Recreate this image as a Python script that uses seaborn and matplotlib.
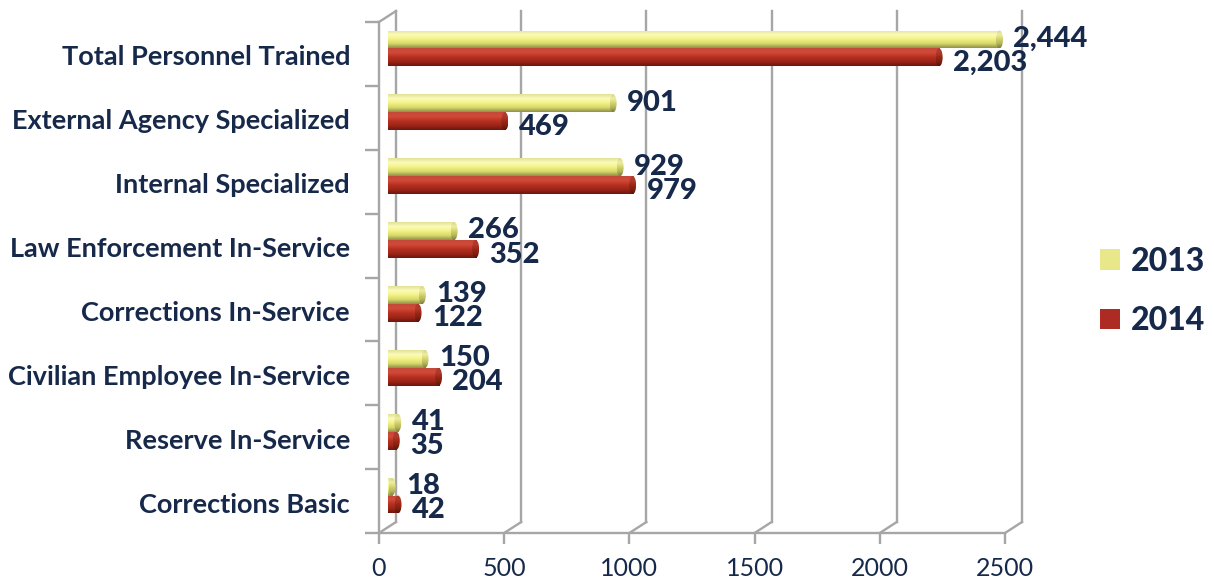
import numpy as np
import pandas as pd
import matplotlib
matplotlib.use("Agg")
import matplotlib.pyplot as plt
import matplotlib.markers as mmarkers
from matplotlib.transforms import ScaledTranslation
from matplotlib.colors import LinearSegmentedColormap
from matplotlib.patches import Patch, Ellipse
import seaborn as sns

# ---- data -------------------------------------------------------------
categories = [
    "Total Personnel Trained",
    "External Agency Specialized",
    "Internal Specialized",
    "Law Enforcement In-Service",
    "Corrections In-Service",
    "Civilian Employee In-Service",
    "Reserve In-Service",
    "Corrections Basic",
]
years = ["2013", "2014"]
values_2013 = [2444, 901, 929, 266, 139, 150, 41, 18]
values_2014 = [2203, 469, 979, 352, 122, 204, 35, 42]
x_ticks = [0, 500, 1000, 1500, 2000, 2500]

df = pd.DataFrame({
    "Category": categories * 2,
    "Year": [years[0]] * len(categories) + [years[1]] * len(categories),
    "Personnel": values_2013 + values_2014,
})

# ---- style ------------------------------------------------------------
sns.set_style("white")
plt.rcParams["font.family"] = ["Lato", "DejaVu Sans"]
TEXT = "#17294a"
GRID = "#a6a6a6"
palette = {"2013": "#e8e88a", "2014": "#ad2b22"}
# cylinder shading, top -> bottom
shades = {
    "2013": ["#e2e296", "#fbfbbd", "#f3f384", "#d8d86a", "#8f8f48"],
    "2014": ["#c4483a", "#d04a38", "#b8301f", "#9c2517", "#6d160e"],
}
cap_shades = {
    "2013": ["#d6d68a", "#eeee9e", "#d2d270", "#b4b45a", "#7c7c3c"],
    "2014": ["#a83a2c", "#b23a2a", "#9a2818", "#80200f", "#5a120a"],
}

DPI = 100
fig = plt.figure(figsize=(12.14, 5.8), dpi=DPI)
W, H = 1214, 580
# axes sit at mid-depth of the pseudo-3D box
x0, x1 = 387.5, 1013.5
y_top, y_bot = 16.5, 527.5
ax = fig.add_axes([x0 / W, (H - y_bot) / H, (x1 - x0) / W, (y_bot - y_top) / H])

sns.barplot(data=df, y="Category", x="Personnel", hue="Year", orient="h",
            palette=palette, width=0.56, ax=ax, legend=False, saturation=1,
            edgecolor="none", errorbar=None)

XMAX = 2500
ax.set_xlim(0, XMAX)
ax.set_ylim(len(categories) - 0.5, -0.5)
for s in ax.spines.values():
    s.set_visible(False)
ax.set_xlabel("")
ax.set_ylabel("")

# depth offsets (pixels) for back wall and front edges
dx, dy = 8.5, 5.5
back = ax.transData + ScaledTranslation(dx / DPI, dy / DPI, fig.dpi_scale_trans)
front = ax.transData + ScaledTranslation(-dx / DPI, -dy / DPI, fig.dpi_scale_trans)
lw = 1.7
ytop, ybot = -0.5, len(categories) - 0.5
line_kw = dict(color=GRID, lw=lw, clip_on=False, zorder=0.5,
               solid_capstyle="projecting")

# back wall gridlines, each bending down to the front floor edge
for xv in x_ticks:
    ax.plot([xv, xv], [ytop, ybot], transform=back, **line_kw)
    bx, by = back.transform((xv, ybot))
    fx, fy = front.transform((xv, ybot))
    fig.add_artist(plt.Line2D([bx / W, fx / W], [by / H, fy / H],
                              transform=fig.transFigure, **line_kw))

# left wall: front edge and top diagonal
ax.plot([0, 0], [ytop, ybot], transform=front, **line_kw)
bx, by = back.transform((0, ytop))
fx, fy = front.transform((0, ytop))
fig.add_artist(plt.Line2D([bx / W, fx / W], [by / H, fy / H],
                          transform=fig.transFigure, **line_kw))
# front floor edge
ax.plot([0, XMAX], [ybot, ybot], transform=front, **line_kw)
# tick marks on front edges
bounds = np.arange(len(categories) + 1) - 0.5
ax.plot(np.zeros_like(bounds), bounds, ls="none", marker=mmarkers.TICKLEFT,
        ms=10, mew=lw, color=GRID, transform=front, clip_on=False)
ax.plot(x_ticks, [ybot] * len(x_ticks), ls="none", marker=mmarkers.TICKDOWN,
        ms=8, mew=lw, color=GRID, transform=front, clip_on=False)

# cylinder shading on bars, with rounded ends
px_per_unit = (x1 - x0) / XMAX
cap_w = 7 / px_per_unit
grad = np.linspace(0, 1, 64).reshape(-1, 1)
for year, cont in zip(years, ax.containers):
    cmap = LinearSegmentedColormap.from_list(year, shades[year])
    cap_cmap = LinearSegmentedColormap.from_list(year + "c", cap_shades[year])
    for bar in cont:
        x, y, w, h = bar.get_x(), bar.get_y(), bar.get_width(), bar.get_height()
        im = ax.imshow(grad, cmap=cmap, aspect="auto", extent=[x, x + w, y + h, y],
                       zorder=2.1, interpolation="bilinear")
        im.set_clip_path(bar)
        for cx, cm, z in ((x, cmap, 2.0), (x + w, cap_cmap, 2.2)):
            cap = Ellipse((cx, y + h / 2), cap_w, h, facecolor="none",
                          edgecolor="none", transform=ax.transData)
            ax.add_patch(cap)
            imc = ax.imshow(grad, cmap=cm, aspect="auto",
                            extent=[cx - cap_w / 2, cx + cap_w / 2, y + h, y],
                            zorder=z, interpolation="bilinear")
            imc.set_clip_path(cap)
ax.set_xlim(0, XMAX)
ax.set_ylim(len(categories) - 0.5, -0.5)

# value labels
for year, cont in zip(years, ax.containers):
    labels = ax.bar_label(cont, fmt="{:,.0f}", padding=10, fontsize=21,
                          fontweight="black", color=TEXT)
    shift = 0.5 if year == "2013" else -4.0
    for t in labels:
        t.xyann = (t.xyann[0], shift)

# tick labels
ax.set_xticks(x_ticks)
ax.set_xticklabels([str(v) for v in x_ticks])
ax.tick_params(axis="x", length=0, pad=21, labelsize=18, labelcolor=TEXT)
ax.tick_params(axis="y", length=0, pad=27, labelsize=19.5, labelcolor=TEXT)
for lab in ax.get_xticklabels():
    lab.set_transform(lab.get_transform() + ScaledTranslation(-dx / DPI, 0, fig.dpi_scale_trans))
for lab in ax.get_yticklabels():
    lab.set_fontweight("bold")
    lab.set_transform(lab.get_transform() + ScaledTranslation(0, -7 / DPI, fig.dpi_scale_trans))

# legend
handles = [Patch(facecolor=palette[y], edgecolor="none") for y in years]
leg = fig.legend(handles, years, loc="center left",
                 bbox_to_anchor=(1071 / W, 1 - 291 / H), frameon=False,
                 handlelength=0.62, handleheight=0.62, handletextpad=0.35,
                 labelspacing=0.95, prop={"size": 23, "weight": "black"})
for t in leg.get_texts():
    t.set_color(TEXT)

fig.savefig("out.png", dpi=DPI)
